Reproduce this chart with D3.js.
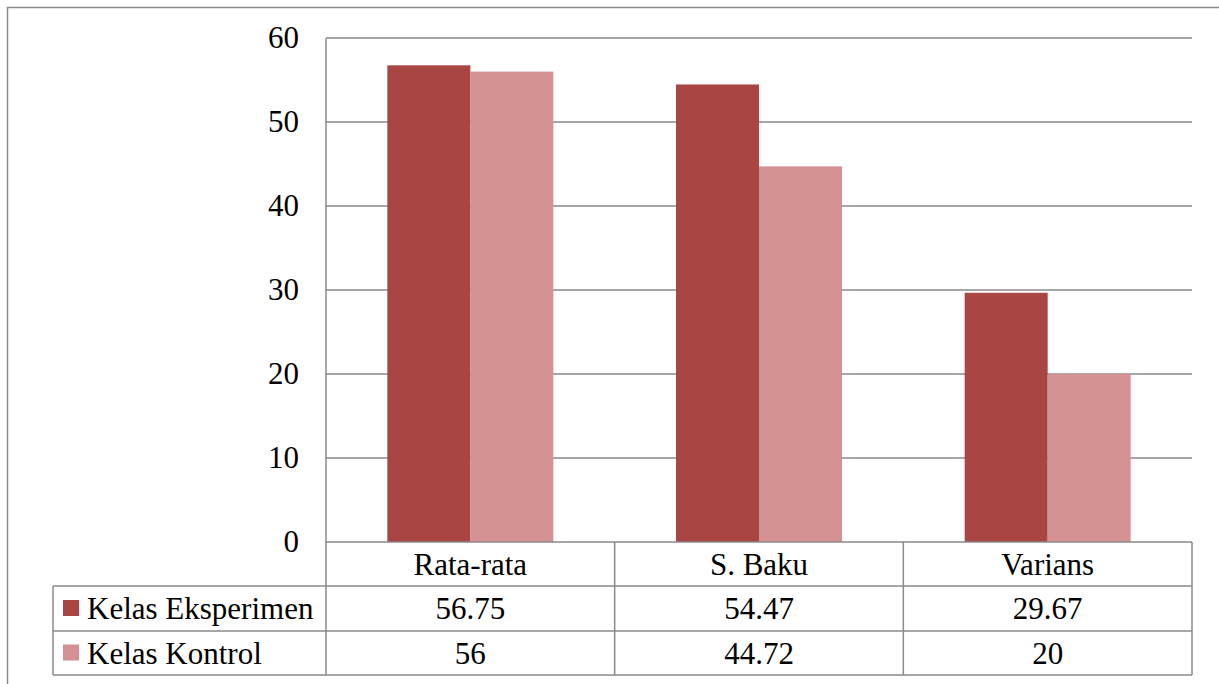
<!DOCTYPE html>
<html>
<head>
<meta charset="utf-8">
<script src="https://cdn.jsdelivr.net/npm/d3@7"></script>
<style>
html,body{margin:0;padding:0;background:#fff;}
svg{display:block;}
</style>
</head>
<body>
<svg id="chart" width="1219" height="684"></svg>
<script>
const categories = ["Rata-rata", "S. Baku", "Varians"];
const seriesNames = ["Kelas Eksperimen", "Kelas Kontrol"];
const eksperimen = [56.75, 54.47, 29.67];
const kontrol = [56, 44.72, 20];
const tableLabels = [["56.75", "54.47", "29.67"], ["56", "44.72", "20"]];
const yTicks = [0, 10, 20, 30, 40, 50, 60];
const colors = ["#A94643", "#D39191"];

const FONT = "'Liberation Serif', 'Times New Roman', serif";
const FS = 31;
const svg = d3.select("#chart");
const plotL = 326, plotR = 1192, plotT = 38, plotB = 542;
const rowY = [542, 586, 631, 675];
const legendL = 53;
const gridColor = "#8a8a8a";

const x = d3.scaleBand().domain(categories).range([plotL, plotR]).padding(0);
const xs = d3.scaleBand().domain(seriesNames).range([0, x.bandwidth()]).paddingInner(0).paddingOuter(0.739);
const y = d3.scaleLinear().domain([0, 60]).range([plotB, plotT]);

// outer frame
svg.append("path").attr("d", "M7.5,684 V7.5 H1219")
  .attr("fill", "none").attr("stroke", gridColor).attr("stroke-width", 1.5);

// gridlines
svg.append("g").selectAll("line").data(yTicks.filter(d => d > 0)).join("line")
  .attr("x1", plotL).attr("x2", plotR)
  .attr("y1", d => y(d)).attr("y2", d => y(d))
  .attr("stroke", gridColor).attr("stroke-width", 1.5);

// bars
const data = [eksperimen, kontrol];
seriesNames.forEach((s, si) => {
  svg.append("g").selectAll("rect").data(categories).join("rect")
    .attr("x", c => x(c) + xs(s))
    .attr("width", xs.bandwidth())
    .attr("y", (c, i) => y(data[si][i]))
    .attr("height", (c, i) => y(0) - y(data[si][i]))
    .attr("fill", colors[si]);
});

// y axis labels
const yAxis = d3.axisLeft(y).tickValues(yTicks).tickSize(0).tickPadding(27);
const ga = svg.append("g").attr("transform", `translate(${plotL},0)`).call(yAxis);
ga.select(".domain").remove();
ga.attr("font-family", null).attr("font-size", null);
ga.selectAll("text").style("font-family", FONT).style("font-size", FS + "px").attr("fill", "#000");

// table lines
const lines = svg.append("g").attr("stroke", gridColor).attr("stroke-width", 1.5);
lines.append("line").attr("x1", plotL).attr("x2", plotR).attr("y1", rowY[0]).attr("y2", rowY[0]);
[rowY[1], rowY[2], rowY[3]].forEach(yy => {
  lines.append("line").attr("x1", legendL).attr("x2", plotR).attr("y1", yy).attr("y2", yy);
});
lines.append("line").attr("x1", plotL).attr("x2", plotL).attr("y1", plotT).attr("y2", rowY[3]);
lines.append("line").attr("x1", legendL).attr("x2", legendL).attr("y1", rowY[1]).attr("y2", rowY[3]);
categories.forEach(c => {
  const xr = x(c) + x.bandwidth();
  lines.append("line").attr("x1", xr).attr("x2", xr).attr("y1", rowY[0]).attr("y2", rowY[3]);
});

// header text
svg.append("g").selectAll("text").data(categories).join("text")
  .attr("x", c => x(c) + x.bandwidth() / 2)
  .attr("y", (rowY[0] + rowY[1]) / 2)
  .attr("dy", "0.35em")
  .attr("text-anchor", "middle")
  .style("font-family", FONT).style("font-size", FS + "px").attr("fill", "#000")
  .text(c => c);

// value rows
tableLabels.forEach((row, ri) => {
  const cy = (rowY[ri + 1] + rowY[ri + 2]) / 2;
  svg.append("g").selectAll("text").data(row).join("text")
    .attr("x", (d, i) => x(categories[i]) + x.bandwidth() / 2)
    .attr("y", cy)
    .attr("dy", "0.35em")
    .attr("text-anchor", "middle")
    .style("font-family", FONT).style("font-size", FS + "px").attr("fill", "#000")
    .text(d => d);
  svg.append("rect").attr("x", 63).attr("y", cy - 8.5).attr("width", 16).attr("height", 16)
    .attr("fill", colors[ri]);
  svg.append("text").attr("x", 87).attr("y", cy).attr("dy", "0.35em")
    .style("font-family", FONT).style("font-size", FS + "px").attr("fill", "#000")
    .text(seriesNames[ri]);
});
</script>
</body>
</html>
